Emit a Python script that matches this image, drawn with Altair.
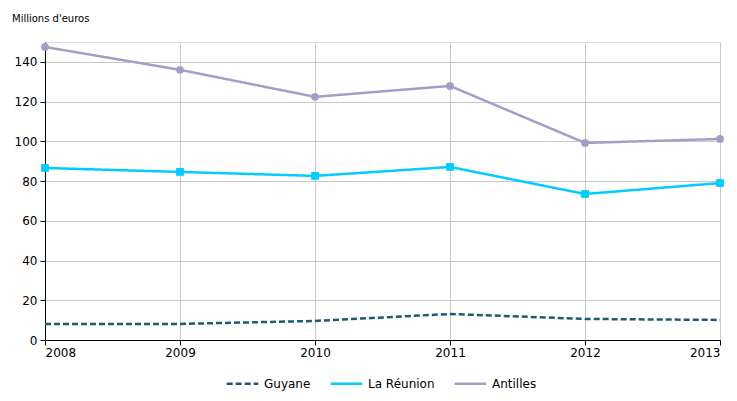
import altair as alt
import pandas as pd

years = [2008, 2009, 2010, 2011, 2012, 2013]
guyane = [8.1, 8.1, 9.6, 13.1, 10.6, 10.1]
reunion = [86.6, 84.6, 82.6, 87.1, 73.5, 79.0]
antilles = [147.5, 136.0, 122.4, 127.9, 99.2, 101.2]

series = ["Guyane", "La Réunion", "Antilles"]
colors = ["#1F5A6E", "#00CCFF", "#A99BC8"]

rows = []
for name, vals in zip(series, [guyane, reunion, antilles]):
    for y, v in zip(years, vals):
        rows.append({"year": y, "value": v, "series": name})
df = pd.DataFrame(rows)

FONT = "DejaVu Sans"

x = alt.X("year:Q", scale=alt.Scale(domain=[2008, 2013], nice=False),
          axis=alt.Axis(values=years, format="d", title=None, grid=True,
                        gridColor="#c8c8c8", domainColor="#000000", tickColor="#000000",
                        tickSize=5, labelFontSize=12, labelColor="#000000", labelFont=FONT,
                        labelPadding=2))
y = alt.Y("value:Q", scale=alt.Scale(domain=[0, 150], nice=False),
          axis=alt.Axis(values=[0, 20, 40, 60, 80, 100, 120, 140], title=None, grid=True,
                        gridColor="#c8c8c8", domainColor="#000000", tickColor="#000000",
                        tickSize=5, labelFontSize=12, labelColor="#000000", labelFont=FONT,
                        labelPadding=3))

color = alt.Color("series:N", scale=alt.Scale(domain=series, range=colors),
                  legend=alt.Legend(title=None, orient="none", direction="horizontal",
                                    legendX=180, legendY=324, symbolType="stroke",
                                    symbolSize=1000, symbolStrokeWidth=2.5,
                                    labelFontSize=12, labelFont=FONT, labelColor="#000000",
                                    columnPadding=14, labelOffset=4))
dash = alt.StrokeDash("series:N", scale=alt.Scale(domain=series, range=[[6, 3], [1, 0], [1, 0]]),
                      legend=None)

lines = alt.Chart(df).mark_line(strokeWidth=2.5).encode(x=x, y=y, color=color, strokeDash=dash)

points = alt.Chart(df).transform_filter(alt.datum.series != "Guyane").mark_point(
    filled=True, opacity=1, size=60).encode(
    x=x, y=y,
    color=alt.Color("series:N", scale=alt.Scale(domain=series, range=colors), legend=None),
    shape=alt.Shape("series:N", scale=alt.Scale(domain=["La Réunion", "Antilles"],
                                                range=["square", "circle"]), legend=None))

title = alt.Chart(pd.DataFrame({"t": ["Millions d'euros"]})).mark_text(
    align="left", baseline="middle", fontSize=10, font=FONT, color="#000000").encode(
    x=alt.value(-33), y=alt.value(-23), text="t:N")

chart = alt.layer(lines, points, title).properties(
    width=675, height=298,
    autosize=alt.AutoSizeParams(type="none"),
    padding={"left": 37, "top": 34, "right": 8, "bottom": 53},
).configure_view(stroke="#c8c8c8").configure(background="white")

chart.save("out.html", embed_options={"renderer": "svg", "actions": False})
